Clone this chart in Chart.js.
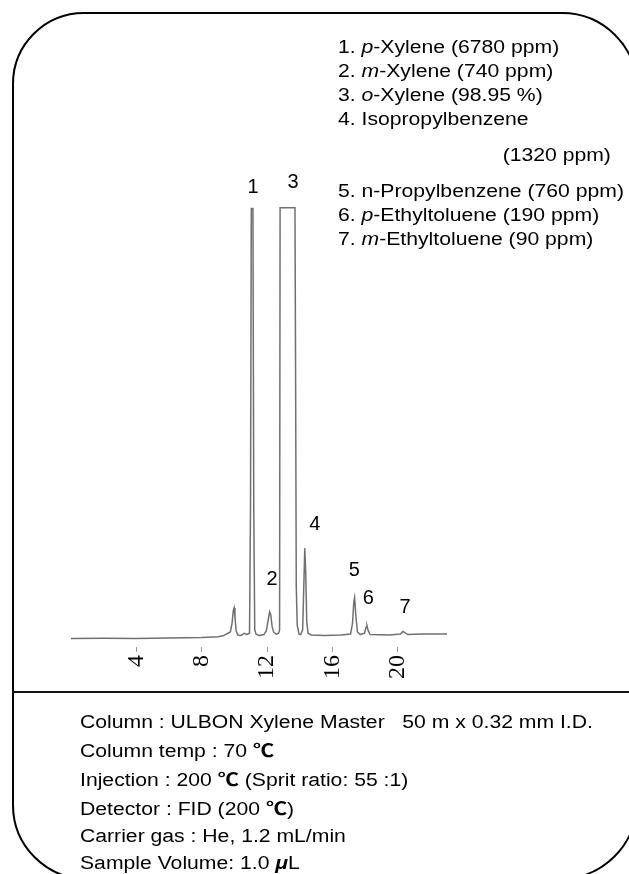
<!DOCTYPE html>
<html>
<head>
<meta charset="utf-8">
<script src="https://cdn.jsdelivr.net/npm/chart.js@4/dist/chart.umd.min.js"></script>
<style>
  html, body { margin: 0; padding: 0; background: #fff; }
  body { width: 629px; height: 874px; position: relative; overflow: hidden;
         font-family: "Liberation Sans", Arial, sans-serif; color: #000; }
  #frame { position: absolute; left: 12px; top: 12px; width: 622px; height: 864px;
           border: 2px solid #000; border-radius: 72px 76px 78px 75px; }
  #divider { position: absolute; left: 12px; top: 691px; width: 620px; border-top: 2px solid #111; }
  #chart { position: absolute; left: 0; top: 0; }
  .legend { position: absolute; left: 338px; top: 35px; font-size: 18px; line-height: 24px;
            transform: scaleX(1.176); transform-origin: 0 0; }
  .legend .wrap { padding-left: 140px; margin: 12px 0; }
  .conditions { position: absolute; left: 80px; top: 709px; font-size: 18px; line-height: 27px;
                transform: scaleX(1.176); transform-origin: 0 0; }
  .legend div, .conditions div { white-space: pre; }
  .deg { font-family: "Noto Sans CJK JP", sans-serif; font-weight: bold; }
</style>
</head>
<body>
<div id="frame"></div>
<div id="divider"></div>
<canvas id="chart" width="629" height="874"></canvas>

<div class="legend">
  <div>1. <i>p</i>-Xylene (6780 ppm)</div>
  <div>2. <i>m</i>-Xylene (740 ppm)</div>
  <div>3. <i>o</i>-Xylene (98.95 %)</div>
  <div>4. Isopropylbenzene</div>
  <div class="wrap">(1320 ppm)</div>
  <div>5. n-Propylbenzene (760 ppm)</div>
  <div>6. <i>p</i>-Ethyltoluene (190 ppm)</div>
  <div>7. <i>m</i>-Ethyltoluene (90 ppm)</div>
</div>

<div class="conditions">
  <div>Column : ULBON Xylene Master   50 m x 0.32 mm I.D.</div>
  <div>Column temp : 70 <span class="deg">℃</span></div>
  <div>Injection : 200 <span class="deg">℃</span> (Sprit ratio: 55 :1)</div>
  <div>Detector : FID (200 <span class="deg">℃</span>)</div>
  <div>Carrier gas : He, 1.2 mL/min</div>
  <div>Sample Volume: 1.0 <b><i>μ</i></b>L</div>
</div>

<script>
// retention time (min) and detector signal (peak 1 = 100)
const times = [
  0, 2, 4, 6, 8, 9.0, 9.3, 9.6, 9.75, 9.85, 9.93, 9.98, 10.03, 10.1, 10.2, 10.4, 10.6, 10.75,
  10.92, 10.98, 11.03, 11.13, 11.18, 11.24, 11.32, 11.5, 11.8,
  11.95, 12.05, 12.15, 12.22, 12.3, 12.4, 12.55, 12.7,
  12.76, 12.79, 13.70, 13.74, 13.78, 13.84, 13.95, 14.05,
  14.17, 14.24, 14.30, 14.36, 14.42, 14.5, 14.7, 15.5, 16.5,
  17.1, 17.22, 17.3, 17.35, 17.42, 17.52, 17.7,
  17.95, 18.05, 18.1, 18.18, 18.3, 19.5,
  20.15, 20.3, 20.4, 20.6, 21.5, 23.0
];
const signal = [
  0.0, 0.05, 0.0, 0.1, 0.2, 0.4, 0.6, 1.2, 1.5, 3.5, 6.5, 7.1, 5.0, 1.8, 0.8, 0.7, 1.2, 0.9,
  1.2, 30, 100, 100, 30, 2, 1.0, 0.7, 0.9,
  1.8, 4.0, 6.2, 5.5, 2.8, 1.4, 1.0, 1.2,
  2.0, 100.2, 100.2, 60, 12, 3, 1.0, 0.9,
  2.0, 12, 21.0, 15, 4, 1.2, 0.8, 0.7, 0.8,
  1.0, 3.5, 8.5, 9.5, 5.5, 1.5, 0.9,
  1.2, 2.6, 3.0, 1.8, 0.9, 0.8,
  1.0, 1.6, 1.4, 0.9, 1.0, 1.0
];
const tickValues = [4, 8, 12, 16, 20];

// peak numbers and where they sit (time, signal level)
const peakNumbers = ['1', '2', '3', '4', '5', '6', '7'];
const peakLabelTimes = [11.13, 12.3, 13.58, 14.92, 17.33, 18.18, 20.43];
const peakLabelLevels = [104.9, 13.6, 106.1, 26.4, 15.9, 9.2, 7.3];

const peakLabels = {
  id: 'peakLabels',
  afterDatasetsDraw(chart) {
    const ctx = chart.ctx;
    const xs = chart.scales.x;
    const ys = chart.scales.y;
    ctx.save();
    ctx.fillStyle = '#000';
    ctx.font = '20px "Liberation Sans", Arial, sans-serif';
    ctx.textAlign = 'center';
    ctx.textBaseline = 'middle';
    peakNumbers.forEach((n, i) => {
      ctx.fillText(n, xs.getPixelForValue(peakLabelTimes[i]), ys.getPixelForValue(peakLabelLevels[i]));
    });
    ctx.restore();
  }
};

new Chart(document.getElementById('chart'), {
  type: 'line',
  data: {
    datasets: [{
      data: times.map((t, i) => ({ x: t, y: signal[i] })),
      borderColor: '#707070',
      borderWidth: 1.5,
      pointRadius: 0,
      tension: 0,
      fill: false
    }]
  },
  options: {
    responsive: false,
    animation: false,
    devicePixelRatio: 1,
    layout: { padding: { left: 71, right: 182, top: 200, bottom: 167 } },
    plugins: { legend: { display: false }, tooltip: { enabled: false } },
    scales: {
      x: {
        type: 'linear',
        min: 0,
        max: 23,
        afterBuildTicks(scale) { scale.ticks = tickValues.map(v => ({ value: v })); },
        afterFit(scale) { scale.height = 60; },
        border: { display: false },
        grid: { drawOnChartArea: false, drawTicks: true, tickLength: 5, color: '#999', tickWidth: 1 },
        ticks: {
          minRotation: 90,
          maxRotation: 90,
          padding: 3,
          color: '#000',
          font: { family: '"Liberation Serif", "Times New Roman", serif', size: 24 }
        }
      },
      y: {
        display: false,
        min: -2,
        max: 102
      }
    }
  },
  plugins: [peakLabels]
});
</script>
</body>
</html>
